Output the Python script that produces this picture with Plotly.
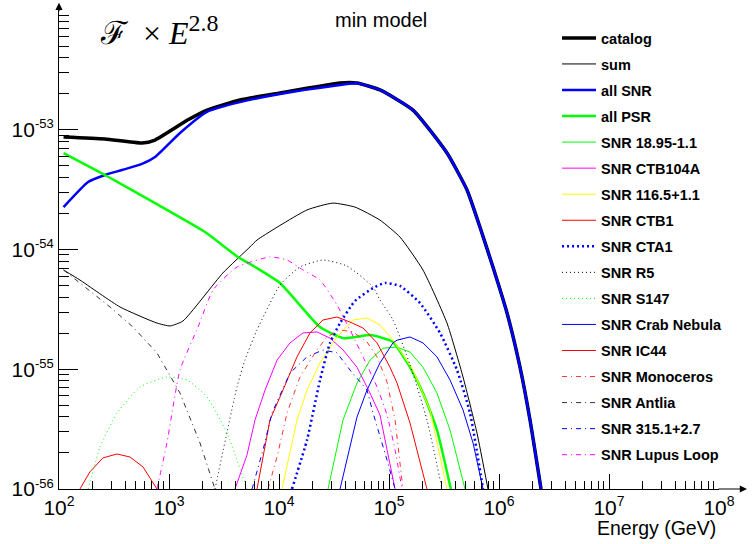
import plotly.graph_objects as go

# ---------------- data (energy in GeV, flux x E^2.8) ----------------
catalog_E = [110, 262, 568, 747, 1489, 2215, 4416, 10210, 35890, 51170, 82790, 165200,
             336700, 512000, 671000, 881000, 1183000, 1552000, 1914000, 2410000]
catalog_F = [8.70e-54, 8.37e-54, 7.75e-54, 8.21e-54, 1.21e-53, 1.46e-53, 1.77e-53, 2.03e-53, 2.46e-53, 2.46e-53,
             2.15e-53, 1.46e-53, 6.39e-54, 3.14e-54, 1.54e-54, 7.14e-55, 2.95e-55, 1.04e-55,
             3.77e-56, 1.0e-56]

sum_E = [110, 155, 359, 777, 1023, 1340, 3090, 5445, 6310, 17990, 30900, 49100, 82790, 125900, 203700,
         336700, 471000, 631000, 794000]
sum_F = [6.74e-55, 5.56e-55, 3.31e-55, 2.43e-55, 2.30e-55, 2.53e-55, 6.37e-55, 1.05e-54, 1.20e-54, 2.14e-54,
         2.44e-54, 2.26e-54, 1.76e-54, 1.27e-54, 6.74e-55, 2.43e-55, 8.61e-56, 2.93e-56, 1.0e-56]

allsnr_E = [110, 184, 262, 374, 568, 747, 1259, 2215, 4416, 10210, 30900, 51170, 82790, 165200,
            336700, 512000, 671000, 881000, 1183000, 1552000, 1914000, 2410000]
allsnr_F = [2.26e-54, 3.66e-54, 4.19e-54, 4.61e-54, 5.18e-54, 5.92e-54, 9.40e-54, 1.41e-53, 1.70e-53,
            1.99e-53, 2.32e-53, 2.44e-53, 2.15e-53, 1.46e-53, 6.39e-54, 3.14e-54, 1.54e-54,
            7.14e-55, 2.95e-55, 1.04e-55, 3.77e-56, 1.0e-56]

allpsr_E = [110, 262, 747, 2124, 4236, 6053, 10210, 23600, 38200, 67140, 88100, 108700, 155200, 203700, 272900,
            365000]
allpsr_F = [6.39e-54, 4.19e-54, 2.44e-54, 1.40e-54, 8.66e-55, 7.14e-55, 5.25e-55, 2.25e-55, 1.82e-55, 1.93e-55,
            1.82e-55, 1.69e-55, 1.04e-55, 6.33e-56, 3.11e-56, 1.0e-56]

snr1895_E = [27900, 38200, 51170, 67140, 88100, 118300, 155200, 203700, 272900, 358900, 491000]
snr1895_F = [1.0e-56, 3.77e-56, 7.68e-56, 1.19e-55, 1.50e-55, 1.53e-55, 1.39e-55, 1.04e-55, 6.33e-56, 3.11e-56,
             1.0e-56]

ctb104a_E = [3981, 5114, 6053, 7470, 9594, 12589, 16520, 22130, 29090, 38200, 51170, 67140, 82790, 95940, 113500]
ctb104a_F = [1.0e-56, 1.92e-56, 3.77e-56, 6.71e-56, 1.19e-55, 1.66e-55, 2.01e-55, 2.05e-55, 1.82e-55, 1.45e-55,
             1.04e-55, 6.33e-56, 4.15e-56, 2.12e-56, 1.0e-56]

snr1165_E = [10650, 14580, 17990, 23600, 33670, 47100, 63100, 82790, 108700, 165200, 236000, 336700]
snr1165_F = [1.0e-56, 3.77e-56, 6.71e-56, 1.13e-55, 1.86e-55, 2.58e-55, 2.68e-55, 2.34e-55, 1.75e-55, 9.86e-56,
             4.57e-56, 1.0e-56]

ctb1_E = [155, 191, 251, 337, 442, 580, 777]
ctb1_F = [1.0e-56, 1.39e-56, 1.82e-56, 1.96e-56, 1.85e-56, 1.53e-56, 1.0e-56]

cta1_E = [13120, 17990, 23600, 29090, 35890, 49100, 71610, 92000, 125900, 191400, 290900, 415000, 545000, 716000]
cta1_F = [1.0e-56, 2.57e-56, 8.13e-56, 1.66e-55, 2.43e-55, 3.72e-55, 4.77e-55, 5.25e-55, 4.96e-55, 3.57e-55,
          2.01e-55, 9.86e-56, 4.31e-56, 1.0e-56]

r5_E = [2618, 4150, 4898, 6310, 10210, 15490, 25120, 41500, 71610, 82790, 108700, 155200, 221300, 303400]
r5_F = [1.0e-56, 7.11e-56, 1.19e-55, 2.13e-55, 5.05e-55, 7.14e-55, 8.17e-55, 7.28e-55, 4.86e-55, 3.79e-55,
        2.58e-55, 1.09e-55, 3.77e-56, 1.0e-56]

s147_E = [184, 236, 337, 545, 957, 1458, 2215, 3367, 5114]
s147_F = [1.0e-56, 2.24e-56, 4.31e-56, 7.11e-56, 8.61e-56, 8.13e-56, 5.87e-56, 2.93e-56, 1.0e-56]

crab_E = [35890, 51170, 63100, 82790, 108700, 118300, 155200, 203700, 272900, 358900, 471000, 581000, 716000]
crab_F = [1.0e-56, 3.99e-56, 6.71e-56, 1.13e-55, 1.66e-55, 1.75e-55, 1.86e-55, 1.66e-55, 1.27e-55, 8.13e-56,
          4.57e-56, 2.42e-56, 1.0e-56]

ic44_E = [6310, 8279, 10870, 14580, 19140, 25120, 33670, 44160, 58070, 77800, 102100, 118300, 155200, 221300]
ic44_F = [1.0e-56, 3.77e-56, 6.71e-56, 1.27e-55, 2.01e-55, 2.58e-55, 2.73e-55, 2.48e-55, 2.21e-55, 1.66e-55,
          1.04e-55, 7.68e-56, 3.56e-56, 1.0e-56]

monoceros_E = [7943, 9594, 11830, 15490, 22130, 27290, 35890, 47100, 63100, 77800, 95940, 113500, 133900]
monoceros_F = [1.0e-56, 1.85e-56, 4.31e-56, 8.61e-56, 1.45e-55, 1.86e-55, 2.13e-55, 2.05e-55, 1.69e-55, 1.27e-55,
               7.83e-56, 3.77e-56, 1.0e-56]

antlia_E = [110, 155, 291, 471, 777, 1259, 1914, 2618]
antlia_F = [6.74e-55, 5.25e-55, 3.31e-55, 2.25e-55, 1.37e-55, 6.33e-56, 2.42e-56, 1.0e-56]

snr3151_E = [5686, 7161, 8630, 12589, 17990, 25120, 33670, 44160, 63100, 71610, 95940, 113500]
snr3151_F = [1.0e-56, 2.12e-56, 4.31e-56, 9.30e-56, 1.27e-55, 1.45e-55, 1.37e-55, 9.86e-56, 6.71e-56, 4.31e-56,
             1.75e-56, 1.0e-56]

lupus_E = [777, 957, 1259, 1836, 2512, 4150, 8279, 11830, 16520, 23600, 33670, 44160, 58070, 77800, 95940,
           113500, 131200]
lupus_F = [1.0e-56, 2.42e-56, 9.86e-56, 2.25e-55, 4.59e-55, 7.14e-55, 8.66e-55, 8.17e-55, 6.74e-55, 5.56e-55,
           3.44e-55, 2.13e-55, 1.27e-55, 7.11e-56, 4.15e-56, 2.12e-56, 1.0e-56]

x_tickvals = [1e2, 1e3, 1e4, 1e5, 1e6, 1e7, 1e8]
x_exps = ["2", "3", "4", "5", "6", "7", "8"]
y_tickvals = [1e-56, 1e-55, 1e-54, 1e-53, 1e-52]
y_exps = ["-56", "-55", "-54", "-53", "-52"]


def sup_label(exp, size):
    return f'10<sup><span style="font-size:{size}px">{exp}</span></sup>'


x_ticktext = [sup_label(e, 14) for e in x_exps]
y_ticktext = [sup_label(e, 13) for e in y_exps]

# ---------------- styles ----------------
DASHDOT = "5px,4px,1px,4px"
series = [
    ("catalog", catalog_E, catalog_F, "#000000", 3.5, "solid", "spline"),
    ("sum", sum_E, sum_F, "#000000", 1, "solid", "spline"),
    ("all SNR", allsnr_E, allsnr_F, "#0000ff", 2.5, "solid", "spline"),
    ("all PSR", allpsr_E, allpsr_F, "#00ff00", 2.5, "solid", "spline"),
    ("SNR 18.95-1.1", snr1895_E, snr1895_F, "#00ff00", 1, "solid", "linear"),
    ("SNR CTB104A", ctb104a_E, ctb104a_F, "#ff00ff", 1, "solid", "linear"),
    ("SNR 116.5+1.1", snr1165_E, snr1165_F, "#ffff00", 1, "solid", "linear"),
    ("SNR CTB1", ctb1_E, ctb1_F, "#ff0000", 1, "solid", "linear"),
    ("SNR CTA1", cta1_E, cta1_F, "#0000ff", 2.5, "2px,3px", "spline"),
    ("SNR R5", r5_E, r5_F, "#000000", 1, "1px,3px", "spline"),
    ("SNR S147", s147_E, s147_F, "#00ff00", 1, "1px,3px", "spline"),
    ("SNR Crab Nebula", crab_E, crab_F, "#0000ff", 1, "solid", "linear"),
    ("SNR IC44", ic44_E, ic44_F, "#ff0000", 1, "solid", "linear"),
    ("SNR Monoceros", monoceros_E, monoceros_F, "#ff3030", 1, DASHDOT, "linear"),
    ("SNR Antlia", antlia_E, antlia_F, "#333333", 1, DASHDOT, "linear"),
    ("SNR 315.1+2.7", snr3151_E, snr3151_F, "#0000ff", 1, DASHDOT, "linear"),
    ("SNR Lupus Loop", lupus_E, lupus_F, "#ff00ff", 1, DASHDOT, "spline"),
]

fig = go.Figure()
for i, (name, xs, ys, color, width, dash, shape) in enumerate(series):
    line = dict(color=color, width=width, dash=dash, shape=shape)
    if shape == "spline":
        line["smoothing"] = 0.5
    fig.add_trace(go.Scatter(x=xs, y=ys, mode="lines", name=name, line=line,
                             legendgroup=f"g{i}", hoverinfo="skip"))

FONT = "Liberation Sans, Arial, Helvetica, sans-serif"

fig.update_layout(
    width=752, height=544,
    margin=dict(l=59, r=33, t=10, b=55, autoexpand=False),
    paper_bgcolor="white", plot_bgcolor="white",
    font=dict(family=FONT, color="black"),
    showlegend=True,
    legend=dict(x=0.7546, y=0.975, xanchor="left", yanchor="top",
                bgcolor="rgba(0,0,0,0)", borderwidth=0,
                font=dict(family=FONT, size=14.5, color="black", weight="bold"),
                tracegroupgap=4.2, itemwidth=34),
    xaxis=dict(type="log", range=[2, 8], showgrid=False, zeroline=False, automargin=False,
               showline=True, linecolor="black", linewidth=1.2,
               ticks="inside", ticklen=15, tickwidth=1, tickcolor="black",
               tickvals=x_tickvals, ticktext=x_ticktext, ticklabelstandoff=0,
               tickfont=dict(family=FONT, size=21),
               minor=dict(ticks="inside", ticklen=8, tickwidth=1, tickcolor="black",
                          tickvals=[k * 10 ** n for n in range(2, 8) for k in range(2, 10)],
                          showgrid=False)),
    yaxis=dict(type="log", range=[-56, -52], showgrid=False, zeroline=False, automargin=False,
               showline=True, linecolor="black", linewidth=1.2,
               ticks="inside", ticklen=19, tickwidth=1, tickcolor="black",
               tickvals=y_tickvals, ticktext=y_ticktext,
               tickfont=dict(family=FONT, size=21), ticklabelstandoff=0,
               minor=dict(ticks="inside", ticklen=10, tickwidth=1, tickcolor="black",
                          tickvals=[k * 10.0 ** n for n in range(-56, -52) for k in range(2, 10)],
                          showgrid=False)),
)

annotations = [
    # axis arrows
    dict(xref="paper", yref="paper", x=1.0424, y=0, ax=-30, ay=0, text="",
         showarrow=True, arrowhead=2, arrowsize=1.2, arrowwidth=1.2, arrowcolor="black"),
    dict(xref="paper", yref="paper", x=0, y=1.015, ax=0, ay=10, text="",
         showarrow=True, arrowhead=2, arrowsize=1.2, arrowwidth=1.2, arrowcolor="black"),
    # texts
    dict(xref="paper", yref="paper", x=(381 - 59) / 660, y=(489 - 20) / 479, text="min model",
         showarrow=False, xanchor="center", yanchor="middle",
         font=dict(family=FONT, size=20, color="black")),
    dict(xref="paper", yref="paper", x=(98 - 59) / 660, y=(489 - 31) / 479,
         text='ℱ\u00a0 × <i>E</i><sup><span style="font-size:24px">2.8</span></sup>',
         showarrow=False, xanchor="left", yanchor="middle",
         font=dict(family="Liberation Serif, DejaVu Serif, serif", size=32, color="black")),
    dict(xref="paper", yref="paper", x=(718 - 59) / 660, y=(489 - 528) / 479, text="Energy (GeV)",
         showarrow=False, xanchor="right", yanchor="middle",
         font=dict(family=FONT, size=19.5, color="black")),
]
fig.update_layout(annotations=annotations)

fig.write_html("out.html", config={"displayModeBar": False},
               post_script="document.body.style.margin='0';document.body.style.padding='0';")
